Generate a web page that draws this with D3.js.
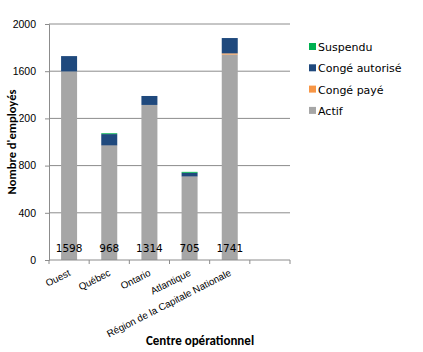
<!DOCTYPE html>
<html>
<head>
<meta charset="utf-8">
<script src="https://cdn.jsdelivr.net/npm/d3@7"></script>
<style>
  body { margin: 0; background: #fff; }
  svg { font-family: "DejaVu Sans", Verdana, sans-serif; }
</style>
</head>
<body>
<div id="chart-area"></div>
<script>
const categories = ["Ouest", "Québec", "Ontario", "Atlantique", "Région de la Capitale Nationale"];
const actif = [1598, 968, 1314, 705, 1741];
const congePaye = [0, 2, 0, 2, 10];
const congeAutorise = [130, 97, 76, 32, 130];
const suspendu = [0, 7, 0, 8, 0];
const yTicks = [0, 400, 800, 1200, 1600, 2000];

const seriesNames = ["Actif", "Congé payé", "Congé autorisé", "Suspendu"];
const seriesColors = ["#A6A6A6", "#F79646", "#1F497D", "#00B050"];

const width = 423;
const height = 352;
const margin = { left: 49, right: 133, top: 24, bottom: 92 };
const chartWidth = width - margin.left - margin.right;
const chartHeight = height - margin.top - margin.bottom;

const rows = categories.map((c, i) => ({
    cat: c,
    "Actif": actif[i],
    "Congé payé": congePaye[i],
    "Congé autorisé": congeAutorise[i],
    "Suspendu": suspendu[i]
}));
const stacked = d3.stack().keys(seriesNames)(rows);

const svg = d3.select('#chart-area')
    .append('svg')
    .attr("width", width)
    .attr("height", height);

const g = svg.append('g')
    .attr("transform", `translate(${margin.left}, ${margin.top})`);

// one empty slot on the right, like the original
const x = d3.scaleBand()
    .domain(categories.concat([""]))
    .range([0, chartWidth]);

const barW = 16;

const y = d3.scaleLinear()
    .domain([0, 2000])
    .range([chartHeight, 0]);

// gridlines
g.selectAll('.grid')
    .data(yTicks.filter(t => t > 0))
    .enter()
    .append('line')
    .attr('x1', 0)
    .attr('x2', chartWidth)
    .attr('y1', d => y(d))
    .attr('y2', d => y(d))
    .attr('stroke', '#8C8C8C')
    .attr('stroke-width', 1);

// bars
g.selectAll('.layer')
    .data(stacked)
    .enter()
    .append('g')
    .attr('fill', (d, i) => seriesColors[i])
    .selectAll('rect')
    .data(d => d)
    .enter()
    .append('rect')
    .attr('x', d => x(d.data.cat) + (x.bandwidth() - barW) / 2)
    .attr('y', d => y(d[1]))
    .attr('width', barW)
    .attr('height', d => y(d[0]) - y(d[1]));

// data labels, inside base
g.selectAll('.lbl')
    .data(rows)
    .enter()
    .append('text')
    .attr('x', d => x(d.cat) + x.bandwidth() / 2)
    .attr('y', y(0) - 8)
    .attr('text-anchor', 'middle')
    .attr('font-size', '10.5px')
    .attr('fill', '#000')
    .text(d => d.Actif);

// y axis
const yAxis = d3.axisLeft(y).tickValues(yTicks).tickSize(4).tickPadding(9).tickFormat(d3.format("d"));
const yg = g.append('g').call(yAxis);
yg.selectAll('text')
    .attr('font-size', '10.5px')
    .attr('fill', '#000')
    .attr('font-family', '"Liberation Sans", Arial, sans-serif');
yg.selectAll('.domain, .tick line').attr('stroke', '#8C8C8C');

// x axis line and boundary ticks
const xg = g.append('g').attr('transform', `translate(0, ${chartHeight})`);
xg.append('line')
    .attr('x1', 0).attr('x2', chartWidth)
    .attr('stroke', '#8C8C8C');
const bounds = x.domain().map(c => x(c)).concat([chartWidth]);
xg.selectAll('.tk')
    .data(bounds)
    .enter()
    .append('line')
    .attr('x1', d => d).attr('x2', d => d)
    .attr('y1', 0).attr('y2', 4)
    .attr('stroke', '#8C8C8C');
xg.selectAll('.xl')
    .data(categories)
    .enter()
    .append('text')
    .attr('transform', d => `translate(${x(d) + x.bandwidth() / 2 + 2}, 15) rotate(-27)`)
    .attr('text-anchor', 'end')
    .attr('font-size', '9.8px')
    .attr('font-family', '"Liberation Sans", Arial, sans-serif')
    .attr('fill', '#000')
    .text(d => d);

// axis titles
svg.append('text')
    .attr('x', 200)
    .attr('y', 345)
    .attr('text-anchor', 'middle')
    .attr('font-size', '13px')
    .attr('font-weight', 'bold')
    .attr('font-family', 'Carlito, Calibri, "Liberation Sans", sans-serif')
    .text("Centre opérationnel");

svg.append('text')
    .attr('transform', 'translate(16, 142) rotate(-90)')
    .attr('text-anchor', 'middle')
    .attr('font-size', '12.5px')
    .attr('font-weight', 'bold')
    .attr('font-family', 'Carlito, Calibri, "Liberation Sans", sans-serif')
    .attr('stroke', '#fff')
    .attr('stroke-width', 3)
    .attr('paint-order', 'stroke')
    .text("Nombre d'employés");

// legend
const legendOrder = [3, 2, 1, 0];
const legend = svg.selectAll('.leg')
    .data(legendOrder)
    .enter()
    .append('g')
    .attr('transform', (d, i) => `translate(309, ${47 + i * 21.3})`);
legend.append('rect')
    .attr('x', 0).attr('y', -4)
    .attr('width', 7).attr('height', 7)
    .attr('fill', d => seriesColors[d]);
legend.append('text')
    .attr('x', 9)
    .attr('y', 4)
    .attr('font-size', '11px')
    .attr('fill', '#000')
    .text(d => seriesNames[d]);
</script>
</body>
</html>
